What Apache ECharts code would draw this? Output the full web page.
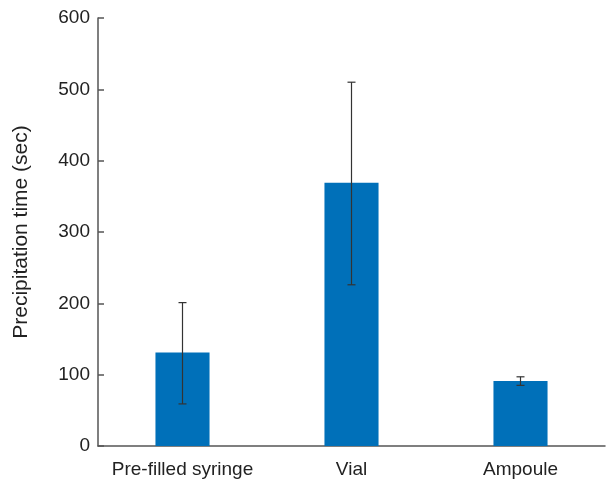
<!DOCTYPE html>
<html><head><meta charset="utf-8">
<script src="https://cdn.jsdelivr.net/npm/echarts@6/dist/echarts.min.js"></script>
<style>html,body{margin:0;padding:0;background:#fff}#c{width:606px;height:483px}</style>
</head><body><div id="c"></div>
<script>
const categories = ['Pre-filled syringe', 'Vial', 'Ampoule'];
const means = [131, 369, 91];
const errLow = [59, 226, 85];
const errHigh = [201, 510, 97];
const yTicks = [0, 100, 200, 300, 400, 500, 600];

const chart = echarts.init(document.getElementById('c'));
const font = 'Liberation Sans, Arial, sans-serif';
chart.setOption({
  animation: false,
  grid: {left: 98, right: 1, top: 18, bottom: 37, outerBoundsMode: 'none', containLabel: false},
  xAxis: {
    type: 'category', data: categories,
    axisLine: {lineStyle: {color: '#555', width: 1.5}},
    axisTick: {show: false},
    axisLabel: {color: '#222', fontSize: 19, fontFamily: font, margin: 14, interval: 0, hideOverlap: false}
  },
  yAxis: {
    type: 'value', min: yTicks[0], max: yTicks[yTicks.length - 1], interval: 100,
    name: 'Precipitation time (sec)', nameLocation: 'middle', nameGap: 66,
    nameTextStyle: {color: '#222', fontSize: 21, fontFamily: font},
    axisLine: {show: true, lineStyle: {color: '#555', width: 1.5}},
    axisTick: {show: true, inside: true, length: 6, lineStyle: {color: '#555', width: 1.5}},
    splitLine: {show: false},
    axisLabel: {color: '#222', fontSize: 19, fontFamily: font, margin: 8}
  },
  series: [
    {type: 'bar', data: means, barWidth: '32%', itemStyle: {color: '#0070b9'}},
    {
      type: 'custom', z: 10,
      data: categories.map((c, i) => [i, errLow[i], errHigh[i]]),
      renderItem: function (params, api) {
        const lo = api.coord([api.value(0), api.value(1)]);
        const hi = api.coord([api.value(0), api.value(2)]);
        const w = 4;
        const st = {stroke: '#333', lineWidth: 1.2};
        return {type: 'group', children: [
          {type: 'line', shape: {x1: hi[0], y1: hi[1], x2: lo[0], y2: lo[1]}, style: st},
          {type: 'line', shape: {x1: hi[0] - w, y1: hi[1], x2: hi[0] + w, y2: hi[1]}, style: st},
          {type: 'line', shape: {x1: lo[0] - w, y1: lo[1], x2: lo[0] + w, y2: lo[1]}, style: st}
        ]};
      }
    }
  ]
});
</script></body></html>
